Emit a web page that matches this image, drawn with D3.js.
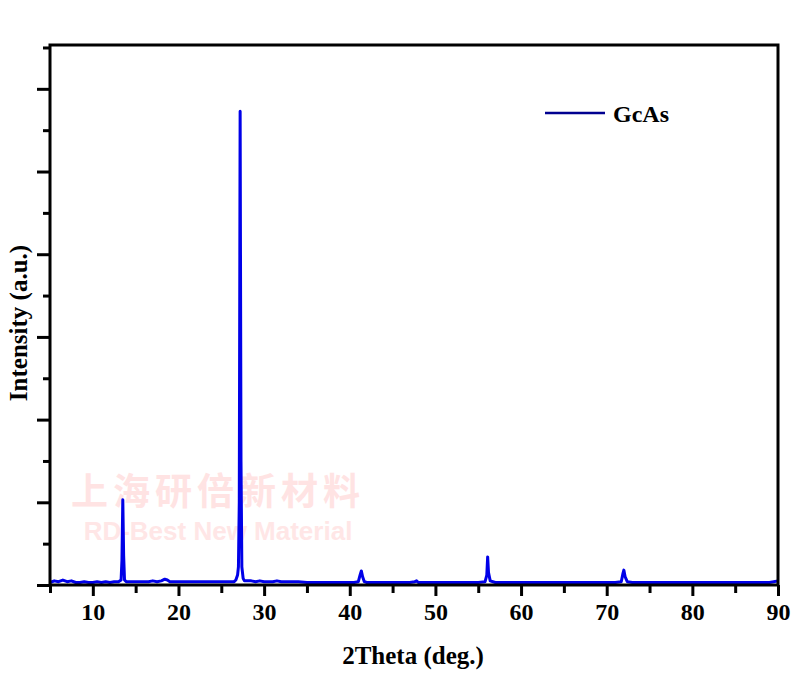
<!DOCTYPE html>
<html>
<head>
<meta charset="utf-8">
<script src="https://cdn.jsdelivr.net/npm/d3@7"></script>
<style>
html,body{margin:0;padding:0;background:#fff;}
svg{display:block;}
</style>
</head>
<body>
<svg id="chart" width="800" height="676"></svg>
<script>
// 2Theta (deg.) positions
const twoTheta = [5.0,5.5,6.0,6.5,7.0,7.5,8.0,8.5,9.0,9.5,10.0,10.5,11.0,11.5,12.0,12.5,13.0,13.3,13.4,13.5,13.6,13.7,13.9,14.5,15.0,15.5,16.0,16.5,17.0,17.5,18.0,18.4,18.7,19.0,19.5,20.0,20.5,21.0,21.5,22.0,22.5,23.0,23.5,24.0,24.5,25.0,25.5,26.0,26.5,26.7,26.9,27.0,27.1,27.2,27.3,27.4,27.55,27.7,28.0,28.5,29.0,29.5,30.0,30.5,31.0,31.5,32.0,32.5,33.0,33.5,34.0,35.0,36.0,37.0,38.0,39.0,40.0,40.5,41.0,41.2,41.35,41.5,41.7,42.0,43.0,44.0,45.0,46.0,47.0,47.6,47.8,48.0,49.0,50.0,51.0,52.0,53.0,54.0,55.0,55.8,56.0,56.1,56.2,56.4,57.0,58.0,59.0,60.0,61.0,62.0,63.0,64.0,65.0,66.0,67.0,68.0,69.0,70.0,71.0,71.7,71.9,72.0,72.15,72.4,73.0,74.0,75.0,76.0,77.0,78.0,79.0,80.0,81.0,82.0,83.0,84.0,85.0,86.0,87.0,88.0,89.0,89.5,90.0];
// Intensity (a.u.)
const intensity = [0.03,0.05,0.04,0.06,0.04,0.05,0.03,0.03,0.04,0.03,0.03,0.04,0.03,0.04,0.03,0.04,0.04,0.06,0.30,1.03,0.35,0.06,0.04,0.04,0.04,0.04,0.04,0.04,0.05,0.04,0.05,0.07,0.06,0.04,0.04,0.04,0.04,0.04,0.04,0.04,0.04,0.04,0.04,0.04,0.04,0.04,0.04,0.04,0.04,0.06,0.12,0.22,1.00,5.73,1.50,0.22,0.08,0.05,0.05,0.05,0.04,0.05,0.04,0.04,0.04,0.05,0.04,0.04,0.04,0.04,0.04,0.03,0.03,0.03,0.03,0.03,0.03,0.03,0.04,0.12,0.17,0.10,0.04,0.03,0.03,0.03,0.03,0.03,0.03,0.04,0.05,0.03,0.03,0.03,0.03,0.03,0.03,0.03,0.03,0.04,0.12,0.34,0.15,0.05,0.03,0.03,0.03,0.03,0.03,0.03,0.03,0.03,0.03,0.03,0.03,0.03,0.03,0.03,0.03,0.04,0.14,0.18,0.10,0.04,0.03,0.03,0.03,0.03,0.03,0.03,0.03,0.03,0.03,0.03,0.03,0.03,0.03,0.03,0.03,0.03,0.03,0.04,0.05];
const xTicks = [10,20,30,40,50,60,70,80,90];
const xMinorTicks = [5,15,25,35,45,55,65,75,85];
const yTicks = [0,1,2,3,4,5,6];
const yMinorTicks = [0.5,1.5,2.5,3.5,4.5,5.5,6.5];
const seriesName = "GcAs";
const xTitle = "2Theta (deg.)";
const yTitle = "Intensity (a.u.)";
const watermarkCN = "上海研倍新材料";
const watermarkEN = "RD-Best New Material";

const svg = d3.select("#chart");
const L = 50, R = 778, T = 45, B = 585;
const x = d3.scaleLinear().domain([5, 90]).range([L, R]);
const y = d3.scaleLinear().domain([0, 6.53]).range([B, T]);
const serif = "'Liberation Serif','Times New Roman',serif";

// watermark
svg.append("text").attr("x", 218).attr("y", 505).attr("text-anchor", "middle")
  .attr("font-family", "'Noto Sans CJK SC',sans-serif").attr("font-weight", "bold")
  .attr("font-size", 37).attr("fill", "#ffe3e3").attr("letter-spacing", 5).text(watermarkCN);
svg.append("text").attr("x", 218).attr("y", 540).attr("text-anchor", "middle")
  .attr("font-family", "'Liberation Sans',Arial,sans-serif").attr("font-weight", "bold")
  .attr("font-size", 26).attr("fill", "#ffe6e6").text(watermarkEN);

// data line
const line = d3.line().x((d, i) => x(twoTheta[i])).y(d => y(d));
svg.append("path").datum(intensity).attr("d", line)
  .attr("fill", "none").attr("stroke", "#0000e8").attr("stroke-width", 3)
  .attr("stroke-linejoin", "round");

// frame
svg.append("rect").attr("x", L).attr("y", T).attr("width", R - L).attr("height", B - T)
  .attr("fill", "none").attr("stroke", "#000").attr("stroke-width", 3);

// x axis
const xAxis = svg.append("g").attr("transform", `translate(0,${B})`)
  .call(d3.axisBottom(x).tickValues(xTicks).tickSize(11).tickPadding(7).tickFormat(d3.format("d")));
const xMinor = svg.append("g").attr("transform", `translate(0,${B})`)
  .call(d3.axisBottom(x).tickValues(xMinorTicks).tickSize(8).tickFormat(""));
// y axis
const yAxis = svg.append("g").attr("transform", `translate(${L},0)`)
  .call(d3.axisLeft(y).tickValues(yTicks).tickSize(13).tickFormat(""));
const yMinor = svg.append("g").attr("transform", `translate(${L},0)`)
  .call(d3.axisLeft(y).tickValues(yMinorTicks).tickSize(7).tickFormat(""));

[xAxis, xMinor, yAxis, yMinor].forEach(g => {
  g.select(".domain").remove();
  g.selectAll("line").attr("stroke", "#000").attr("stroke-width", 3);
});
xAxis.selectAll("text").attr("font-family", serif).attr("font-weight", "bold")
  .attr("font-size", 24).attr("fill", "#000");

// axis titles
svg.append("text").attr("x", 413).attr("y", 664).attr("text-anchor", "middle")
  .attr("font-family", serif).attr("font-weight", "bold").attr("font-size", 25).text(xTitle);
svg.append("text").attr("transform", "translate(27,323) rotate(-90)").attr("text-anchor", "middle")
  .attr("font-family", serif).attr("font-weight", "bold").attr("font-size", 25).text(yTitle);

// legend
svg.append("line").attr("x1", 545).attr("x2", 605).attr("y1", 113).attr("y2", 113)
  .attr("stroke", "#000090").attr("stroke-width", 2.5);
svg.append("text").attr("x", 613).attr("y", 122).attr("font-family", serif)
  .attr("font-weight", "bold").attr("font-size", 24).text(seriesName);
</script>
</body>
</html>
